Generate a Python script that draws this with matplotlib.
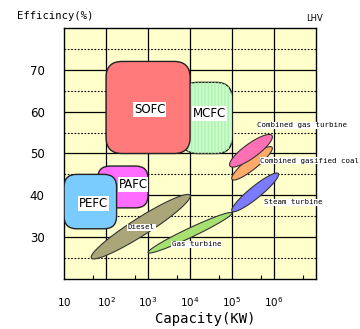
import matplotlib
matplotlib.use("Agg")
import matplotlib.pyplot as plt
import numpy as np
from matplotlib.patches import FancyBboxPatch, Polygon

plt.rcParams['font.family'] = ['DejaVu Sans']

# Fuel cells (rounded boxes), capacity as log10(kW)
fc_names = ['MCFC', 'SOFC', 'PAFC', 'PEFC']
fc_cap_lo = [3.8, 2.0, 1.8, 1.0]
fc_cap_hi = [5.0, 4.0, 3.0, 2.25]
fc_eff_lo = [50, 50, 37, 32]
fc_eff_hi = [67, 72, 47, 45]
fc_label_x = [4.46, 3.04, 2.64, 1.69]
fc_label_y = [59.5, 60.5, 42.6, 38.1]
fc_colors = ['#ccffcc', '#ff7b7b', '#ff6cff', '#7accff']

# Conventional generators (tilted ellipses): end points
gen_names = ['Diesel', 'Gas turbine', 'Steam turbine',
             'Combined gasified coal', 'Combined gas turbine']
gen_cap1 = [1.65, 3.0, 5.0, 5.0, 4.95]
gen_eff1 = [25.0, 26.3, 36.2, 43.8, 47.0]
gen_cap2 = [4.0, 5.0, 6.1, 5.95, 5.95]
gen_eff2 = [40.0, 35.8, 45.2, 51.5, 54.3]
gen_thick = [0.42, 0.22, 0.28, 0.28, 0.34]
gen_label_x = [2.52, 3.57, 5.76, 5.67, 5.6]
gen_label_y = [32.4, 28.3, 38.3, 48.3, 56.7]
gen_colors = ['#aaa67a', '#a6e070', '#7b7bff', '#ffaa6a', '#ff70b4']

xticks = [1, 2, 3, 4, 5, 6]
xticklabels = ['$10$', '$10^2$', '$10^3$', '$10^4$', '$10^5$', '$10^6$']
yticks = [30, 40, 50, 60, 70]

fig = plt.figure(figsize=(3.6, 3.29), dpi=100)
ax = fig.add_axes([0.178, 0.152, 0.70, 0.763])
ax.set_facecolor('#ffffcc')
ax.set_xlim(1, 7)
ax.set_ylim(20, 80)

# grid
for x in range(2, 7):
    ax.axvline(x, color='black', lw=0.9, zorder=1)
for y in yticks:
    ax.axhline(y, color='black', lw=0.9, zorder=1)
for y in [25, 35, 45, 55, 65, 75]:
    ax.axhline(y, color='black', lw=0.8, ls=(0, (1.5, 1.5)), zorder=1)

# ellipses
t = np.linspace(0, 2 * np.pi, 200)
for i in range(len(gen_names)):
    p1 = np.array([gen_cap1[i], gen_eff1[i] / 10])
    p2 = np.array([gen_cap2[i], gen_eff2[i] / 10])
    c = (p1 + p2) / 2
    d = p2 - p1
    a = np.linalg.norm(d) / 2
    e1 = d / np.linalg.norm(d)
    e2 = np.array([-e1[1], e1[0]])
    b = gen_thick[i] / 2
    pts = c + np.outer(a * np.cos(t), e1) + np.outer(b * np.sin(t), e2)
    pts[:, 1] *= 10
    ax.add_patch(Polygon(pts, closed=True, fc=gen_colors[i], ec='#333333',
                         lw=0.8, zorder=3))

# rounded boxes
for i in range(len(fc_names)):
    w = fc_cap_hi[i] - fc_cap_lo[i]
    h = fc_eff_hi[i] - fc_eff_lo[i]
    r = 0.3 if fc_names[i] in ('PEFC', 'PAFC') else 0.38
    box = FancyBboxPatch((fc_cap_lo[i], fc_eff_lo[i]), w, h,
                         boxstyle='round,pad=0,rounding_size=%s' % r,
                         mutation_aspect=10, fc=fc_colors[i], ec='#222222',
                         lw=1.0, zorder=4)
    ax.add_patch(box)
    if fc_names[i] == 'MCFC':
        hb = FancyBboxPatch((fc_cap_lo[i], fc_eff_lo[i]), w, h,
                            boxstyle='round,pad=0,rounding_size=%s' % r,
                            mutation_aspect=10, fc='none', ec='#b0f0b0',
                            lw=0, hatch='|||||', zorder=4)
        ax.add_patch(hb)

for i in range(len(fc_names)):
    ax.text(fc_label_x[i], fc_label_y[i], fc_names[i], ha='center', va='center',
            fontsize=8.5, zorder=6,
            bbox=dict(fc='white', ec='none', pad=0.6))

for i in range(len(gen_names)):
    ax.text(gen_label_x[i], gen_label_y[i], gen_names[i], ha='left', va='center',
            fontsize=5.3, family='DejaVu Sans Mono', zorder=6,
            bbox=dict(fc='white', ec='none', pad=0.4))

ax.set_xticks(xticks)
ax.set_xticklabels(xticklabels, fontsize=7.5)
ax.set_xticks([np.log10(5 * 10 ** k) for k in range(1, 7)], minor=True)
ax.set_yticks(yticks)
ax.set_yticklabels([str(v) for v in yticks], fontsize=8.5)
ax.tick_params(axis='x', which='major', length=0, pad=12)
ax.tick_params(axis='x', which='minor', direction='in', length=3, width=0.8)
ax.tick_params(axis='y', length=0, pad=14)
for s in ax.spines.values():
    s.set_linewidth(1.0)

fig.text(0.047, 0.951, 'Efficincy(%)', fontsize=7.6, family='DejaVu Sans Mono',
         va='center', ha='left')
fig.text(0.85, 0.945, 'LHV', fontsize=6, va='center', ha='left')
fig.text(0.57, 0.03, 'Capacity(KW)', fontsize=10, family='DejaVu Sans Mono',
         va='center', ha='center')

fig.savefig('out.png', dpi=100)
